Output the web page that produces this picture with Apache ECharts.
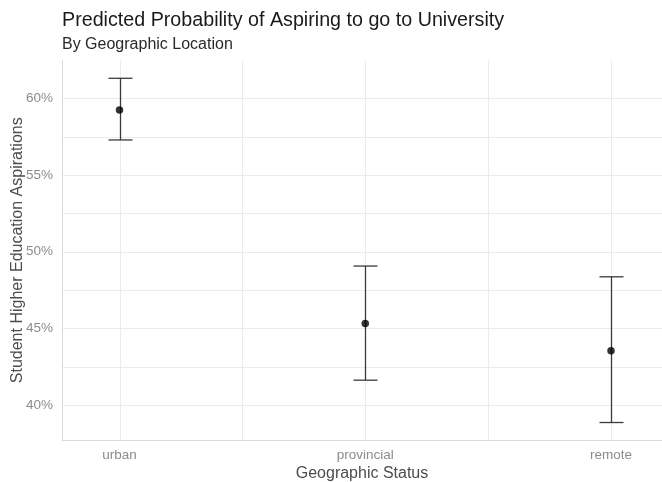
<!DOCTYPE html>
<html>
<head>
<meta charset="utf-8">
<script src="https://cdn.jsdelivr.net/npm/echarts@6/dist/echarts.min.js"></script>
<style>
  html, body { margin: 0; padding: 0; background: #fff; }
  #chart { width: 662px; height: 482px; }
</style>
</head>
<body>
<div id="chart"></div>
<script>
// Predicted probabilities (%) with confidence bounds by location
const categories = ['urban', 'provincial', 'remote'];
const estimates = [59.24, 45.32, 43.54];
const lowerCI = [57.28, 41.62, 38.86];
const upperCI = [61.30, 49.06, 48.36];
const yTicks = [40, 45, 50, 55, 60];
const yGrid = [40, 42.5, 45, 47.5, 50, 52.5, 55, 57.5, 60];
const xGrid = [1, 1.5, 2, 2.5, 3];

const catPos = categories.map((_, i) => i + 1);
const font = 'Liberation Sans, Arial, sans-serif';
const gridColor = '#ebebeb';
const xMin = 0.766, xMax = 3.2075, yMin = 37.72, yMax = 62.46;

const chart = echarts.init(document.getElementById('chart'));

chart.setOption({
  animation: false,
  backgroundColor: '#ffffff',
  title: [
    {
      text: 'Predicted Probability of Aspiring to go to University',
      left: 62, top: 11, padding: 0,
      textStyle: { fontFamily: font, fontSize: 19.7, fontWeight: 'normal', color: '#1a1a1a' }
    },
    {
      text: 'By Geographic Location',
      left: 62, top: 37, padding: 0,
      textStyle: { fontFamily: font, fontSize: 16, fontWeight: 'normal', color: '#2a2a2a' }
    }
  ],
  grid: { left: 62, right: 0, top: 60.5, bottom: 42, outerBoundsMode: 'none', containLabel: false },
  xAxis: {
    type: 'value',
    min: xMin,
    max: xMax,
    name: 'Geographic Status',
    nameLocation: 'middle',
    nameGap: 26,
    nameMoveOverlap: false,
    nameTextStyle: { fontFamily: font, fontSize: 16, color: '#4d4d4d' },
    axisLine: { show: true, lineStyle: { color: '#dcdcdc', width: 1 } },
    axisTick: { show: false },
    splitLine: { show: false },
    axisLabel: {
      customValues: catPos,
      margin: 8,
      fontFamily: font, fontSize: 13.5, color: '#8c8c8c',
      formatter: v => categories[Math.round(v) - 1] || ''
    }
  },
  yAxis: {
    type: 'value',
    min: yMin,
    max: yMax,
    name: 'Student Higher Education Aspirations',
    nameLocation: 'middle',
    nameGap: 36,
    nameMoveOverlap: false,
    nameTextStyle: { fontFamily: font, fontSize: 16, color: '#4d4d4d' },
    axisLine: { show: true, lineStyle: { color: '#dcdcdc', width: 1 } },
    axisTick: { show: false },
    splitLine: { show: false },
    axisLabel: {
      customValues: yTicks,
      margin: 9,
      fontFamily: font, fontSize: 13.5, color: '#8c8c8c',
      formatter: v => v + '%'
    }
  },
  series: [
    {
      // panel grid lines, drawn beneath the marks
      type: 'custom',
      silent: true,
      z: 0,
      data: [0],
      renderItem: function (params, api) {
        const children = [];
        xGrid.forEach(v => {
          const a = api.coord([v, yMin]);
          const b = api.coord([v, yMax]);
          const x = Math.round(a[0]) + 0.5;
          children.push({ type: 'line', shape: { x1: x, y1: a[1], x2: x, y2: b[1] },
            style: { stroke: gridColor, lineWidth: 1 } });
        });
        yGrid.forEach(v => {
          const a = api.coord([xMin, v]);
          const b = api.coord([xMax, v]);
          const y = Math.round(a[1]) + 0.5;
          children.push({ type: 'line', shape: { x1: a[0], y1: y, x2: b[0], y2: y },
            style: { stroke: gridColor, lineWidth: 1 } });
        });
        return { type: 'group', children: children };
      }
    },
    {
      // error bars
      type: 'custom',
      z: 2,
      data: catPos.map((x, i) => [x, lowerCI[i], upperCI[i]]),
      renderItem: function (params, api) {
        const x = api.value(0);
        const lo = api.coord([x, api.value(1)]);
        const hi = api.coord([x, api.value(2)]);
        const cx = Math.round(lo[0]) + 0.5;
        const hw = 12;
        const style = { stroke: '#3a3a3a', lineWidth: 1.3 };
        return {
          type: 'group',
          children: [
            { type: 'line', shape: { x1: cx, y1: lo[1], x2: cx, y2: hi[1] }, style: style },
            { type: 'line', shape: { x1: cx - hw, y1: hi[1], x2: cx + hw, y2: hi[1] }, style: style },
            { type: 'line', shape: { x1: cx - hw, y1: lo[1], x2: cx + hw, y2: lo[1] }, style: style }
          ]
        };
      }
    },
    {
      // point estimates
      type: 'scatter',
      z: 3,
      symbol: 'circle',
      symbolSize: 7.5,
      itemStyle: { color: '#000000' },
      data: catPos.map((x, i) => [x, estimates[i]])
    }
  ]
});
</script>
</body>
</html>
